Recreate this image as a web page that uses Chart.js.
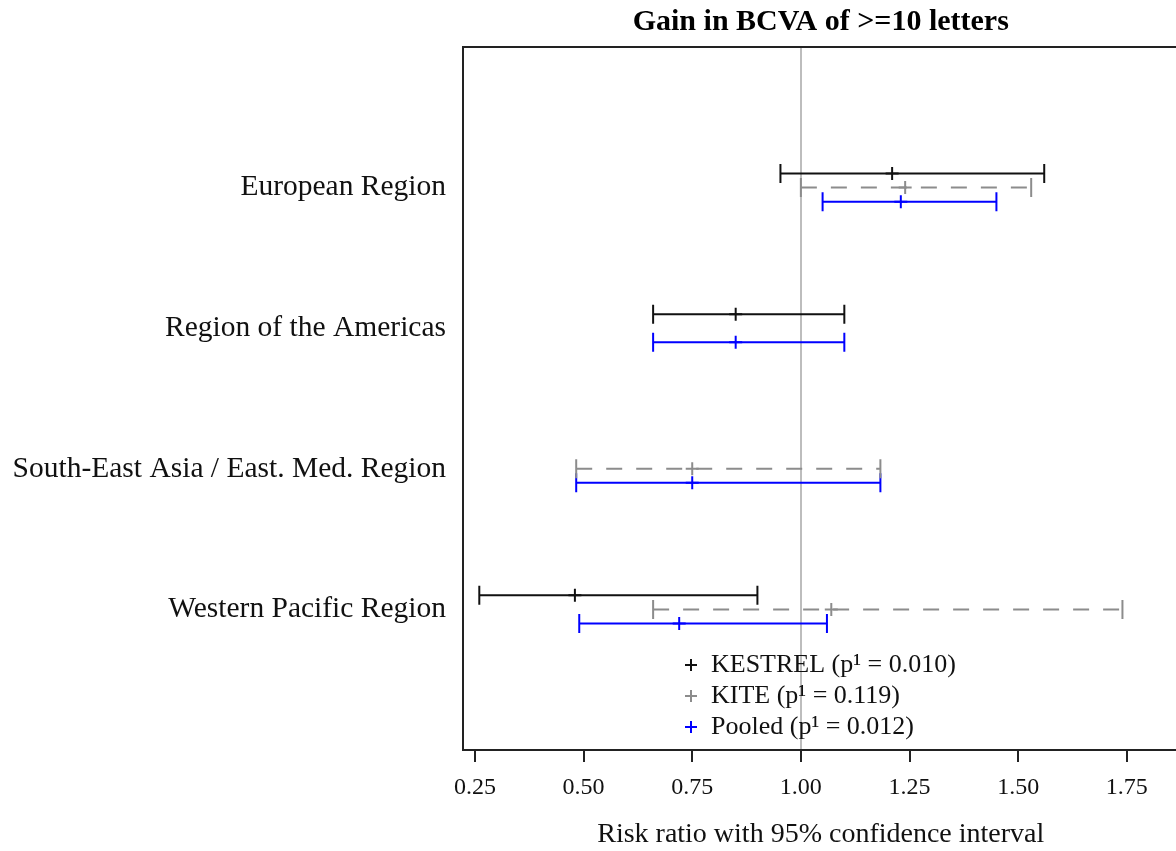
<!DOCTYPE html>
<html>
<head>
<meta charset="utf-8">
<script src="https://cdn.jsdelivr.net/npm/chart.js@4.4.0/dist/chart.umd.min.js"></script>
<style>
html, body { margin: 0; padding: 0; background: #fff; overflow: hidden; }
#grafico_wrap { width: 1190px; height: 851px; }
</style>
</head>
<body>
<div id="grafico_wrap"><canvas id="canvas_forest"></canvas></div>
<script>
// categorias (de cima para baixo)
const regioes = ['European Region', 'Region of the Americas', 'South-East Asia / East. Med. Region', 'Western Pacific Region'];
const tickValues = [0.25, 0.50, 0.75, 1.00, 1.25, 1.50, 1.75];

// risk ratio + IC 95%, por regiao (null = sem dados)
const kestrelLow  = [0.953, 0.66, null, 0.26];
const kestrelEst  = [1.21,  0.85, null, 0.48];
const kestrelHigh = [1.56,  1.10, null, 0.90];

const kiteLow  = [1.00, null, 0.483, 0.66];
const kiteEst  = [1.24, null, 0.75,  1.07];
const kiteHigh = [1.53, null, 1.183, 1.74];

const pooledLow  = [1.05, 0.66, 0.483, 0.49];
const pooledEst  = [1.23, 0.85, 0.75,  0.72];
const pooledHigh = [1.45, 1.10, 1.183, 1.06];

const legendas = ['KESTREL (p\u00B9 = 0.010)', 'KITE (p\u00B9 = 0.119)', 'Pooled (p\u00B9 = 0.012)'];
const cores = ['#111111', '#8c8c8c', '#0000ff'];

const fonte = '"Liberation Serif", "Times New Roman", serif';

function intervalo(low, high, off) {
	var pts = [];
	for (let i in low) {
		if (low[i] === null) continue;
		pts.push({x: low[i], y: Number(i) + 1 + off});
		pts.push({x: high[i], y: Number(i) + 1 + off});
		pts.push({x: null, y: null});
	}
	return pts;
}

function estimativa(est, off) {
	var pts = [];
	for (let i in est) {
		if (est[i] === null) continue;
		pts.push({x: est[i], y: Number(i) + 1 + off});
	}
	return pts;
}

function linha(label, low, high, off, cor, dash, capR) {
	return {
		label: label,
		data: intervalo(low, high, off),
		showLine: true,
		spanGaps: false,
		borderColor: cor,
		borderWidth: 2,
		borderDash: dash,
		pointStyle: 'line',
		rotation: 90,
		pointRadius: capR,
		pointBorderWidth: 2,
		pointBorderColor: cor,
		pointBackgroundColor: cor
	};
}

function cruz(label, est, off, cor) {
	return {
		label: label,
		data: estimativa(est, off),
		showLine: false,
		pointStyle: 'cross',
		pointRadius: 6.5,
		pointBorderWidth: 2,
		pointBorderColor: cor,
		pointBackgroundColor: cor
	};
}

const offs = [-0.1, 0, 0.1];

const datasets = [
	linha('KESTREL', kestrelLow, kestrelHigh, offs[0], cores[0], [], 9.5),
	cruz('KESTREL est', kestrelEst, offs[0], cores[0]),
	linha('KITE', kiteLow, kiteHigh, offs[1], cores[1], [16, 14], 9.5),
	cruz('KITE est', kiteEst, offs[1], cores[1]),
	linha('Pooled', pooledLow, pooledHigh, offs[2], cores[2], [], 9.5),
	cruz('Pooled est', pooledEst, offs[2], cores[2])
];

const moldura = {
	id: 'moldura',
	afterDatasetsDraw(chart) {
		const {ctx, chartArea} = chart;
		ctx.save();
		ctx.strokeStyle = '#222';
		ctx.lineWidth = 2;
		ctx.strokeRect(chartArea.left, chartArea.top, chartArea.right - chartArea.left, chartArea.bottom - chartArea.top);
		ctx.restore();
	}
};

const legendaInterna = {
	id: 'legendaInterna',
	afterDatasetsDraw(chart) {
		const {ctx, chartArea} = chart;
		ctx.save();
		ctx.font = '26px ' + fonte;
		ctx.textBaseline = 'middle';
		ctx.textAlign = 'left';
		legendas.forEach((txt, i) => {
			const y = chartArea.top + 618 + i * 31;
			const x = chartArea.left + 228;
			ctx.strokeStyle = cores[i];
			ctx.lineWidth = 2;
			ctx.beginPath();
			ctx.moveTo(x - 6, y); ctx.lineTo(x + 6, y);
			ctx.moveTo(x, y - 6); ctx.lineTo(x, y + 6);
			ctx.stroke();
			ctx.fillStyle = '#111';
			ctx.fillText(txt, x + 20, y);
		});
		ctx.restore();
	}
};

new Chart(document.getElementById('canvas_forest').getContext('2d'), {
	type: 'scatter',
	data: {datasets: datasets},
	options: {
		responsive: true,
		maintainAspectRatio: false,
		animation: false,
		events: [],
		layout: {padding: {left: 0, right: 9, top: 0, bottom: 0}},
		plugins: {
			legend: {display: false},
			tooltip: {enabled: false},
			title: {
				display: true,
				text: 'Gain in BCVA of >=10 letters',
				fullSize: false,
				color: '#000',
				font: {family: fonte, size: 30, weight: 'bold'},
				padding: {top: 4, bottom: 7}
			}
		},
		scales: {
			x: {
				type: 'linear',
				min: 0.2225,
				max: 1.869,
				afterBuildTicks: (scale) => { scale.ticks = tickValues.map(v => ({value: v})); },
				afterFit: (scale) => { scale.height = 101; },
				ticks: {
					color: '#111',
					font: {family: fonte, size: 24},
					padding: 11,
					maxRotation: 0,
					callback: (v) => Number(v).toFixed(2)
				},
				grid: {
					drawOnChartArea: true,
					drawTicks: true,
					tickLength: 12,
					tickColor: '#222',
					tickWidth: 2,
					color: (ctx) => (ctx.tick && ctx.tick.value === 1 ? '#bdbdbd' : 'rgba(0,0,0,0)'),
					lineWidth: 2
				},
				border: {display: true, color: '#222', width: 2},
				title: {
					display: true,
					text: 'Risk ratio with 95% confidence interval',
					color: '#111',
					font: {family: fonte, size: 28},
					padding: {top: 0, bottom: 0}
				}
			},
			y: {
				type: 'linear',
				reverse: true,
				min: 0,
				max: 5,
				afterBuildTicks: (scale) => { scale.ticks = regioes.map((r, i) => ({value: i + 1})); },
				afterFit: (scale) => { scale.width = 463; },
				ticks: {
					color: '#111',
					font: {family: fonte, size: 29.5},
					padding: 17,
					callback: (v) => regioes[v - 1] || ''
				},
				grid: {display: false, drawTicks: false},
				border: {display: true, color: '#222', width: 2}
			}
		}
	},
	plugins: [moldura, legendaInterna]
});
</script>
</body>
</html>
